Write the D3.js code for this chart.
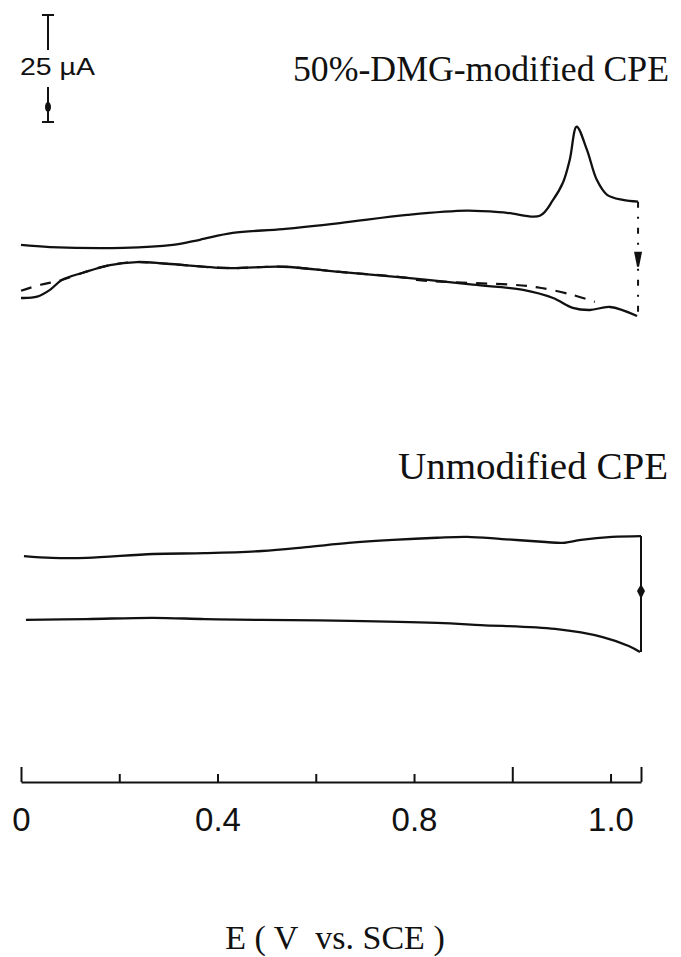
<!DOCTYPE html>
<html><head><meta charset="utf-8">
<script src="https://cdn.jsdelivr.net/npm/d3@7"></script>
<style>body{margin:0;background:#fff}</style>
</head><body>
<svg id="c" width="681" height="957"></svg>
<script>
// ---- data (E in axis units, current in µA with arbitrary pen offset) ----
const dmgForwardE = [0,0.059,0.208,0.309,0.364,0.431,0.533,0.649,0.786,0.908,0.989,1.056,1.083,1.103,1.117,1.131,1.152,1.172,1.193,1.225,1.256];
const dmgForwardI = [106.3,105.8,105.6,106.3,107.5,109.1,110.0,111.4,113.3,114.3,113.8,113.1,116.8,120.8,126.2,133.9,128.5,121.5,118.0,116.8,116.4];
const dmgReverseE = [0,0.033,0.059,0.083,0.126,0.181,0.236,0.297,0.419,0.533,0.649,0.786,0.920,1.022,1.083,1.123,1.158,1.199,1.254];
const dmgReverseI = [93.9,94.2,95.8,98.1,99.8,101.6,102.3,101.9,100.9,101.2,100.0,98.6,97.0,95.8,93.9,91.6,91.1,91.8,89.7];
const dashedE = [0,0.040,0.083,0.126,0.181,0.236,0.297,0.419,0.533,0.649,0.786,0.806,0.920,1.001,1.056,1.123,1.168];
const dashedI = [95.6,97.0,98.1,99.8,101.6,102.3,101.9,100.9,101.2,100.0,98.6,98.1,97.4,97.0,96.3,94.6,93.0];
const unmodForwardE = [0.006,0.063,0.134,0.269,0.374,0.490,0.580,0.667,0.757,0.847,0.908,0.979,1.068,1.103,1.140,1.203,1.262];
const unmodForwardI = [33.6,33.2,33.2,34.1,34.3,34.8,35.7,36.7,37.4,37.9,38.1,37.6,36.9,36.7,37.4,38.1,38.3];
const unmodReverseE = [0.010,0.134,0.269,0.374,0.490,0.670,0.847,0.936,1.087,1.184,1.237,1.260];
const unmodReverseI = [18.7,18.9,19.2,18.9,18.7,18.5,18.0,17.5,16.6,14.7,12.6,11.2];
const dmgSwitch = {E:1.256, from:116.4, to:89.7, arrowTop:104.7, arrowBottom:101.2};
const unmodSwitch = {E:1.262, from:38.3, to:11.2, mark:25.2};
const scaleBar = {top:160, bottom:135, label:"25\u00a0\u00b5A"};
const tickValues = [0,0.2,0.4,0.6,0.8,1.0,1.2];
const labelValues = [0,0.4,0.8,1.2];
const tickLabels = ["0","0.4","0.8","1.0"];
const tallTicks = [0,1.0];
const eMax = 1.262;
const titleTop = "50%-DMG-modified CPE";
const titleBottom = "Unmodified CPE";
const xTitle = "E ( V\u00a0\u00a0vs. SCE )";

// ---- drawing ----
const svg = d3.select("#c");
const x = d3.scaleLinear().domain([0, eMax]).range([21, 641]);
const y = d3.scaleLinear().domain([0, 160]).range([700, 15]);
const ink = "#111";
const line = d3.line().x(d => x(d[0])).y(d => y(d[1])).curve(d3.curveCatmullRom.alpha(0.5));
const zip = (a, b) => a.map((v, i) => [v, b[i]]);

svg.append("path").attr("d", line(zip(dashedE, dashedI)))
  .attr("fill","none").attr("stroke",ink).attr("stroke-width",2.2).attr("stroke-dasharray","11,9");
[[dmgForwardE,dmgForwardI],[dmgReverseE,dmgReverseI],[unmodForwardE,unmodForwardI],[unmodReverseE,unmodReverseI]]
  .forEach(([e,i]) => svg.append("path").attr("d", line(zip(e,i)))
    .attr("fill","none").attr("stroke",ink).attr("stroke-width",2.3).attr("stroke-linejoin","round"));

// switching potential lines
svg.append("line").attr("x1",x(dmgSwitch.E)).attr("x2",x(dmgSwitch.E))
  .attr("y1",y(dmgSwitch.from)).attr("y2",y(dmgSwitch.to))
  .attr("stroke",ink).attr("stroke-width",2).attr("stroke-dasharray","6,9,2,9");
{
  const cx = x(dmgSwitch.E), t = y(dmgSwitch.arrowTop), b = y(dmgSwitch.arrowBottom);
  svg.append("path").attr("d",`M${cx-4},${t} L${cx+4},${t} L${cx+1},${b} L${cx-1},${b} Z`).attr("fill",ink);
}
svg.append("line").attr("x1",x(unmodSwitch.E)).attr("x2",x(unmodSwitch.E))
  .attr("y1",y(unmodSwitch.from)).attr("y2",y(unmodSwitch.to))
  .attr("stroke",ink).attr("stroke-width",2);
{
  const cx = x(unmodSwitch.E), m = y(unmodSwitch.mark);
  svg.append("path").attr("d",`M${cx},${m-8} L${cx+4},${m-1} L${cx},${m+7} L${cx-4},${m-1} Z`).attr("fill",ink);
}

// scale bar
{
  const sx = 48, t = y(scaleBar.top), b = y(scaleBar.bottom);
  const g = svg.append("g").attr("stroke",ink).attr("stroke-width",2);
  g.append("line").attr("x1",sx-6).attr("x2",sx+6).attr("y1",t).attr("y2",t);
  g.append("line").attr("x1",sx).attr("x2",sx).attr("y1",t).attr("y2",t+35);
  g.append("line").attr("x1",sx).attr("x2",sx).attr("y1",b-35).attr("y2",b);
  g.append("line").attr("x1",sx-6).attr("x2",sx+6).attr("y1",b).attr("y2",b);
  svg.append("ellipse").attr("cx",sx).attr("cy",b-15).attr("rx",3).attr("ry",5).attr("fill",ink);
  svg.append("text").attr("x",20).attr("y",75).attr("font-family","Liberation Sans, Arial, sans-serif")
    .attr("font-size",24).attr("fill",ink).attr("textLength",75).attr("lengthAdjust","spacingAndGlyphs").text(scaleBar.label);
}

// axis
const axisY = 782;
const ax = svg.append("g").attr("transform",`translate(0,${axisY})`)
  .call(d3.axisTop(x).tickValues(tickValues.concat([eMax])).tickSize(8).tickSizeOuter(0).tickFormat(""));
ax.select(".domain").attr("stroke",ink).attr("stroke-width",2);
ax.selectAll(".tick line").attr("stroke",ink).attr("stroke-width",2)
  .attr("y2", d => (tallTicks.includes(d) || d === eMax) ? -15 : -8);
const lab = svg.append("g").attr("transform",`translate(0,${axisY})`)
  .call(d3.axisBottom(x).tickValues(labelValues).tickSize(0).tickPadding(26)
    .tickFormat((d,i) => tickLabels[i]));
lab.select(".domain").remove();
lab.selectAll("text").attr("font-family","Liberation Sans, Arial, sans-serif").attr("font-size",33).attr("fill",ink);

// titles
const serif = "Liberation Serif, Times New Roman, serif";
svg.append("text").attr("x",293).attr("y",81).attr("font-family",serif).attr("font-size",36)
  .attr("textLength",376).attr("lengthAdjust","spacingAndGlyphs").attr("fill",ink).text(titleTop);
svg.append("text").attr("x",398).attr("y",479).attr("font-family",serif).attr("font-size",38)
  .attr("textLength",270).attr("lengthAdjust","spacingAndGlyphs").attr("fill",ink).text(titleBottom);
svg.append("text").attr("x",335).attr("y",949).attr("text-anchor","middle").attr("font-family",serif)
  .attr("font-size",34).attr("fill",ink).text(xTitle);
</script>
</body></html>
